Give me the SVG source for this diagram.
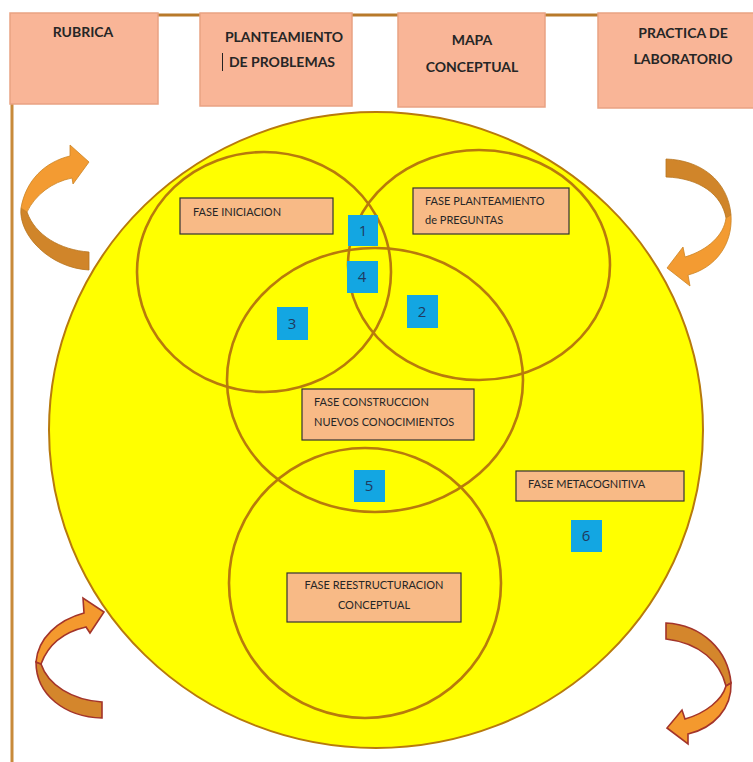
<svg xmlns="http://www.w3.org/2000/svg" width="753" height="762" viewBox="0 0 753 762">
<defs>
<style>
.top{fill:#F9B597;stroke:#E9A283;stroke-width:1.5}
.tt{font-family:Lato,"Liberation Sans",sans-serif;font-weight:bold;font-size:14px;fill:#262626;text-anchor:middle}
.ring{fill:none;stroke:#B87A0C;stroke-width:2.6}
.lab{fill:#F8BA86;stroke:#333;stroke-width:1.2}
.lt{font-family:Lato,"Liberation Sans",sans-serif;font-size:11px;fill:#262626}
.num{fill:#13A6E2}
.nt{font-family:"Open Sans","Liberation Sans",sans-serif;font-size:15px;fill:#1F3A60;text-anchor:middle}
.lite{fill:#F39B32;stroke:#CC8424;stroke-width:0.8}
.dark{fill:#D0852A;stroke:#B87520;stroke-width:0.8}
.liteR{fill:#F4992E;stroke:#A3342A;stroke-width:1.6}
.darkR{fill:#D4862C;stroke:#A3342A;stroke-width:1.6}
</style>
</defs>
<rect width="753" height="762" fill="#fff"/>
<g id="frame">
<line x1="10" y1="15" x2="753" y2="15" stroke="#B8792A" stroke-width="3"/>
<line x1="12" y1="15" x2="12" y2="762" stroke="#C88A3A" stroke-width="3"/>
</g>
<g id="top-rubrica"><rect class="top" x="10" y="13" width="148" height="91"/><text class="tt" x="83" y="37">RUBRICA</text></g>
<g id="top-planteamiento"><rect class="top" x="200" y="13" width="152" height="93"/><text class="tt" x="284" y="42">PLANTEAMIENTO</text><text class="tt" x="282" y="67">DE PROBLEMAS</text><line x1="222.5" y1="53" x2="222.5" y2="71" stroke="#222" stroke-width="1"/></g>
<g id="top-mapa"><rect class="top" x="398" y="13" width="147" height="94"/><text class="tt" x="472" y="45">MAPA</text><text class="tt" x="472" y="72">CONCEPTUAL</text></g>
<g id="top-practica"><rect class="top" x="598" y="13" width="160" height="95"/><text class="tt" x="683" y="38">PRACTICA DE</text><text class="tt" x="683" y="64">LABORATORIO</text></g>
<g id="fase-metacognitiva-circle"><ellipse cx="376" cy="430" rx="327" ry="318" fill="#FFFF00" stroke="#B87A0C" stroke-width="2"/></g>
<g id="rings">
<ellipse class="ring" cx="264" cy="272" rx="127" ry="120"/>
<ellipse class="ring" cx="479" cy="265" rx="131" ry="115"/>
<ellipse class="ring" cx="375" cy="380" rx="148" ry="132"/>
<ellipse class="ring" cx="365" cy="583" rx="136" ry="135"/>
</g>
<g id="fase-iniciacion"><rect class="lab" x="180" y="198" width="153" height="36"/><text class="lt" x="193" y="216">FASE INICIACION</text></g>
<g id="fase-planteamiento"><rect class="lab" x="413" y="188" width="156" height="46"/><text class="lt" x="425" y="205">FASE PLANTEAMIENTO</text><text class="lt" x="425" y="224">de PREGUNTAS</text></g>
<g id="fase-construccion"><rect class="lab" x="302" y="389" width="172" height="51"/><text class="lt" x="314" y="406">FASE CONSTRUCCION</text><text class="lt" x="314" y="426">NUEVOS CONOCIMIENTOS</text></g>
<g id="fase-metacognitiva"><rect class="lab" x="516" y="471" width="168" height="30"/><text class="lt" x="528" y="488">FASE METACOGNITIVA</text></g>
<g id="fase-reestructuracion"><rect class="lab" x="287" y="573" width="174" height="49"/><text class="lt" x="374" y="589" text-anchor="middle">FASE REESTRUCTURACION</text><text class="lt" x="374" y="609" text-anchor="middle">CONCEPTUAL</text></g>
<g id="n1"><rect class="num" x="348" y="215" width="30" height="31"/><text class="nt" x="363" y="236">1</text></g>
<g id="n4"><rect class="num" x="347" y="261" width="31" height="32"/><text class="nt" x="362" y="282">4</text></g>
<g id="n3"><rect class="num" x="277" y="307" width="31" height="33"/><text class="nt" x="292" y="329">3</text></g>
<g id="n2"><rect class="num" x="407" y="295" width="31" height="33"/><text class="nt" x="422" y="317">2</text></g>
<g id="n5"><rect class="num" x="354" y="470" width="31" height="32"/><text class="nt" x="369" y="491">5</text></g>
<g id="n6"><rect class="num" x="571" y="520" width="31" height="32"/><text class="nt" x="586" y="541">6</text></g>
<g id="connectors">
<g id="arrow-top-left">
<path class="dark" d="M21 208 L27 212 C35 235 60 250 89 252 L89 270 C50 268 18 235 21 208 Z"/>
<path class="lite" d="M21 208 C26 180 45 162 70 156 L70 145 L89 162 L73 184 L72 178 C52 182 35 195 27 212 Z"/>
</g>
<g id="arrow-top-right">
<path class="dark" d="M666 159 C700 160 728 180 731 215 L726 218 C722 195 700 178 666 177 Z"/>
<path class="lite" d="M731 215 C733 245 715 268 688 275 L690 286 L667 268 L683 247 L685 257 C708 250 724 235 726 218 Z"/>
</g>
<g id="arrow-bottom-left">
<path class="darkR" d="M36 662 L41 664 C48 685 72 700 102 702 L102 718 C65 717 36 695 36 662 Z"/>
<path class="liteR" d="M36 662 C38 638 58 620 84 613 L83 598 L104 612 L90 633 L86 627 C64 632 48 645 41 664 Z"/>
</g>
<g id="arrow-bottom-right">
<path class="darkR" d="M666 623 C702 625 728 650 731 683 L726 686 C720 662 700 643 666 639 Z"/>
<path class="liteR" d="M731 683 C732 708 714 728 688 734 L688 744 L667 728 L682 710 L685 719 C706 713 722 700 726 686 Z"/>
</g>
</g>
</svg>
